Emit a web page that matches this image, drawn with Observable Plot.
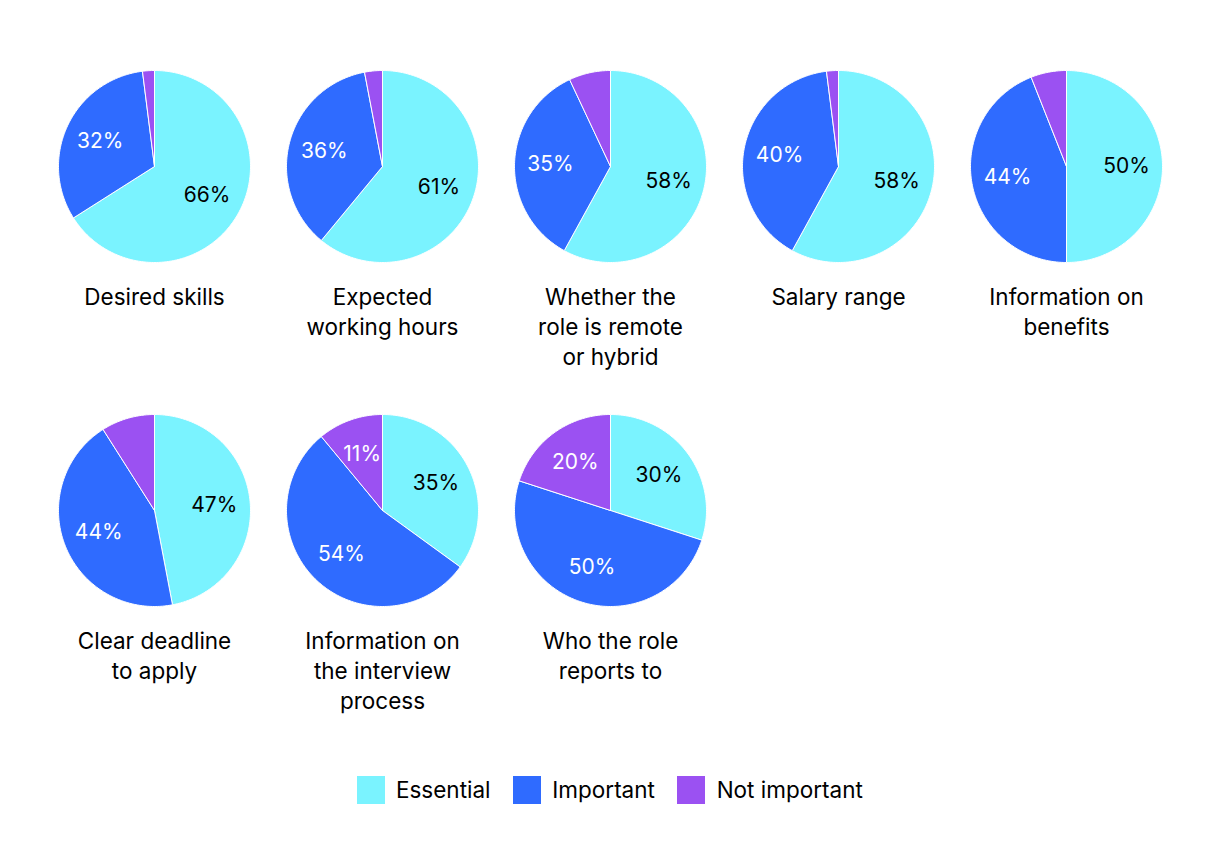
<!DOCTYPE html>
<html>
<head>
<meta charset="utf-8">
<script src="https://cdn.jsdelivr.net/npm/d3@7"></script>
<script src="https://cdn.jsdelivr.net/npm/@observablehq/plot@0.6"></script>
<style>
  body { margin: 0; background: #ffffff; font-family: Inter, sans-serif; }
  #chart { width: 1220px; }
</style>
</head>
<body>
<div id="chart"></div>
<script>
// ---- data ----
const categories = ["Essential", "Important", "Not important"];
const colors = ["#7af3ff", "#2f6bff", "#9b51f2"];
const items = [
  "Desired skills",
  "Expected\nworking hours",
  "Whether the\nrole is remote\nor hybrid",
  "Salary range",
  "Information on\nbenefits",
  "Clear deadline\nto apply",
  "Information on\nthe interview\nprocess",
  "Who the role\nreports to"
];
const essential    = [66, 61, 58, 58, 50, 47, 35, 30];
const important    = [32, 36, 35, 40, 44, 44, 54, 50];
const notImportant = [ 2,  3,  7,  2,  6,  9, 11, 20];
const labelMin = 10;
const columns = 5;

// ---- build slice polygons & label anchors from the values ----
const series = [essential, important, notImportant];
const slices = [];
const labels = [];
const titles = [];
items.forEach((name, i) => {
  const col = i % columns, row = Math.floor(i / columns);
  titles.push({name, col, row});
  let cum = 0;
  categories.forEach((cat, k) => {
    const v = series[k][i];
    const a0 = cum / 100 * 2 * Math.PI;
    const a1 = (cum + v) / 100 * 2 * Math.PI;
    const key = i + "-" + k;
    const n = Math.max(2, Math.ceil(v * 3.6));
    slices.push({key, cat, col, row, x: 0, y: 0});
    for (let j = 0; j <= n; j++) {
      const a = a0 + (a1 - a0) * j / n;
      slices.push({key, cat, col, row, x: Math.sin(a), y: Math.cos(a)});
    }
    slices.push({key, cat, col, row, x: 0, y: 0});
    const am = (a0 + a1) / 2;
    labels.push({cat, value: v, col, row, x: 0.625 * Math.sin(am), y: 0.625 * Math.cos(am)});
    cum += v;
  });
});

const plot = Plot.plot({
  width: 1220,
  height: 760,
  margin: 0,
  style: {fontFamily: "Inter, sans-serif", fontSize: "21px", color: "black", background: "white"},
  fx: {domain: d3.range(columns), range: [40, 1180], padding: 0, axis: null},
  fy: {domain: [0, 1], range: [40, 728], padding: 0, axis: null},
  x: {domain: [-1.1875, 1.1875], axis: null},
  y: {domain: [-2.2708, 1.3125], axis: null},
  color: {domain: categories, range: colors},
  marks: [
    Plot.line(slices, {x: "x", y: "y", z: "key", fill: "cat", stroke: "white", strokeWidth: 1, fx: "col", fy: "row"}),
    Plot.text(labels.filter(d => d.cat === "Essential" && d.value >= labelMin), {
      x: "x", y: "y", fx: "col", fy: "row", text: d => d.value + "%", fill: "black", fontSize: 21
    }),
    Plot.text(labels.filter(d => d.cat !== "Essential" && d.value >= labelMin), {
      x: "x", y: "y", fx: "col", fy: "row", text: d => d.value + "%", fill: "white", fontSize: 21
    }),
    Plot.text(titles, {
      fx: "col", fy: "row", text: "name", frameAnchor: "bottom", lineAnchor: "top",
      dy: -101, lineHeight: 1.3333, fontSize: 22.5, fill: "black"
    })
  ]
});

const legend = Plot.legend({
  color: {domain: categories, range: colors},
  swatchSize: 28,
  style: {fontFamily: "Inter, sans-serif", fontSize: "22.5px", color: "black", justifyContent: "center", marginTop: "13px", paddingLeft: "22px"}
});

const chart = document.getElementById("chart");
chart.appendChild(plot);
chart.appendChild(legend);
</script>
</body>
</html>
